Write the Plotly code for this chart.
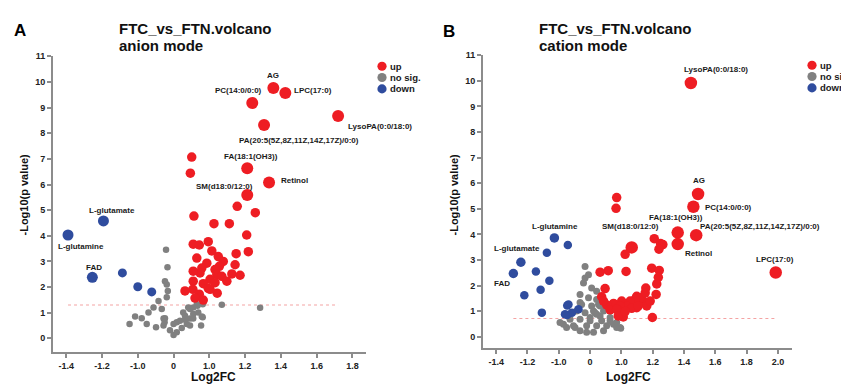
import plotly.graph_objects as go

# ---------------- data ----------------
# Panel A (anion mode): log2FC, -log10(p)
A_up_x = [1.358, 1.425, 1.24, 1.72, 1.306, 1.212, 1.334, 1.212,
          0.508, 0.47, 1.156, 1.257, 0.57, 1.026, 1.112, 1.209, 0.97, 0.55, 0.72, 1.014,
          1.218, 1.15, 1.05, 0.65, 1.078, 0.93, 1.144, 1.056, 0.79, 1.032, 0.74, 0.55,
          1.042, 1.126, 1.07, 1.172, 1.004, 1.098, 0.55, 0.83, 1.032, 0.97, 0.54, 0.32,
          0.72, 1.044, 0.60, 0.83, 1.004]
A_up_y = [9.76, 9.57, 9.18, 8.67, 8.32, 6.63, 6.08, 5.59,
          7.07, 6.44, 5.15, 4.90, 4.77, 4.47, 4.47, 4.03, 3.77, 3.67, 3.64, 3.41,
          3.38, 3.30, 3.19, 3.13, 3.00, 2.93, 2.87, 2.81, 2.74, 2.68, 2.55, 2.62,
          2.49, 2.51, 2.42, 2.46, 2.30, 2.23, 2.23, 2.13, 2.17, 1.95, 1.91, 1.85,
          1.72, 1.76, 1.57, 1.49, 1.91]
A_up_lab = ["AG", "LPC(17:0)", "PC(14:0/0:0)", "LysoPA(0:0/18:0)",
            "PA(20:5(5Z,8Z,11Z,14Z,17Z)/0:0)", "FA(18:1(OH3))", "Retinol", "SM(d18:0/12:0)"]

A_ns_x = [-0.21, -0.17, -0.24, -0.19, -0.16, -0.19, -0.42, -0.56, -0.70, -1.015, -0.89, -1.046,
          -0.75, -0.49, -0.28, -0.28, -0.10, 0.09, 0.0, 0.23, 0.37, 0.46, 0.27, 0.41, 0.55,
          0.65, 0.69, 0.79, 0.55, 0.09, 0.32, -0.25, 0.0, 0.46, 0.815, 1.07, 1.284, 0.815,
          0.77, 0.83, 0.67, 0.46, 0.32, 0.55, 0.18, -0.24, -0.33]
A_ns_y = [3.45, 2.77, 2.23, 2.10, 1.85, 1.60, 1.46, 1.20, 1.01, 0.85, 0.78, 0.56,
          0.56, 0.43, 0.50, 0.77, 0.31, 0.24, 0.13, 0.40, 0.56, 0.77, 1.01, 1.20, 1.20,
          1.33, 1.01, 0.85, 0.77, 0.63, 0.72, 0.63, 0.56, 0.50, 1.33, 1.31, 1.19, 0.82,
          0.50, 1.40, 1.27, 1.14, 0.88, 0.95, 0.69, 0.78, 1.14]

A_down_x = [-1.39, -1.192, -1.254, -1.086, -1.0, -0.61]
A_down_y = [4.03, 4.58, 2.38, 2.55, 2.01, 1.81]
A_down_lab = ["L-glutamine", "L-glutamate", "FAD"]

A_threshold = 1.30

# Panel B (cation mode)
B_up_x = [1.444, 1.49, 1.46, 1.36, 1.478, 1.36, 1.986, 1.066,
          0.85, 0.83, 1.024, 1.03, 0.58, 0.32, 0.48, 0.37,
          1.21, 1.25, 1.265, 1.24, 1.194, 1.242, 1.236, 1.226, 1.156, 1.222, 1.13, 1.152, 1.198,
          1.098, 1.12, 1.088, 1.056, 1.002, 0.75, 0.53, 0.43, 1.034, 0.96, 0.90, 0.64, 0.85,
          1.012, 0.90, 1.098, 1.066, 1.024, 1.108, 1.162, 1.184, 1.152]
B_up_y = [9.92, 5.58, 5.08, 4.07, 3.97, 3.62, 2.51, 3.49,
          5.44, 5.02, 3.22, 2.55, 2.58, 2.52, 1.88, 1.56,
          3.83, 3.64, 3.60, 3.42, 2.68, 2.59, 2.32, 2.06, 1.90, 1.65, 1.46, 1.35, 0.75,
          1.58, 1.52, 1.46, 1.39, 1.39, 1.30, 1.24, 1.39, 1.20, 1.20, 1.03, 1.05, 1.07,
          0.77, 0.81, 1.13, 1.11, 0.98, 1.20, 1.20, 1.39, 1.71]
B_up_lab = ["LysoPA(0:0/18:0)", "AG", "PC(14:0/0:0)", "FA(18:1(OH3))",
            "PA(20:5(5Z,8Z,11Z,14Z,17Z)/0:0)", "Retinol", "LPC(17:0)", "SM(d18:0/12:0)"]

B_ns_x = [-0.16, -0.16, -0.21, 0.05, 0.21, -0.32, -0.05, 0.21, -0.32, 0.05, 0.32, -0.43,
          -0.16, 0.16, 0.32, -0.64, -0.32, 0.0, 0.64, -0.85, -0.53, -0.11, 0.21, 0.53, 0.85,
          0.98, -0.32, 0.11, 0.43, -0.96, -0.05, 0.27, 0.11, -0.11, 0.0, 0.43, 0.64, 0.85,
          0.96, -0.75, -0.48, 0.75, 0.37, 0.21, -0.27]
B_ns_y = [2.74, 2.29, 2.10, 1.90, 1.78, 1.65, 1.52, 1.45, 1.34, 1.20, 1.20, 1.00,
          0.94, 0.94, 0.81, 0.68, 0.68, 0.62, 0.62, 0.49, 0.43, 0.43, 0.43, 0.43, 0.36,
          0.33, 0.23, 0.17, 0.23, 0.55, 2.42, 1.26, 1.00, 0.17, 0.75, 1.00, 0.75, 0.55,
          0.36, 0.36, 0.36, 0.49, 0.62, 0.88, 1.26]

B_down_x = [-1.028, -1.242, -1.29, -0.71, -1.076, -1.146, -1.06, -1.116, -1.22, -1.108,
            -0.73, -0.69, -0.73, -0.58, -0.37, -0.80]
B_down_y = [3.86, 2.91, 2.47, 3.58, 3.28, 2.55, 2.19, 1.83, 1.62, 0.94,
            1.22, 1.26, 0.85, 0.94, 1.07, 0.88]
B_down_lab = ["L-glutamine", "L-glutamate", "FAD"]

B_threshold = 0.71

A_ticks = [-1.4, -1.2, -1.0, 0, 1.0, 1.2, 1.4, 1.6, 1.8]
B_ticks = [-1.4, -1.2, -1.0, 0, 1.0, 1.2, 1.4, 1.6, 1.8, 2.0]
tick_text = {-1.4: "-1.4", -1.2: "-1.2", -1.0: "-1.0", 0: "0", 1.0: "1.0", 1.2: "1.2",
             1.4: "1.4", 1.6: "1.6", 1.8: "1.8", 2.0: "2.0"}
y_ticks = list(range(0, 12))

legend_items = ["up", "no sig.", "down"]

# ---------------- style ----------------
RED = "#EE1D23"
GRAY = "#808080"
BLUE = "#2F4C9E"
AXC = "#8C8C8C"
TXT = "#1a1a1a"
FONT = "Liberation Sans, Arial, sans-serif"
W, H = 841, 384


def fc_to_axis(v):
    # broken axis: |log2FC| <= 1 linear, beyond 1 each 0.2 is one unit
    if v > 1:
        return 1 + (v - 1) / 0.2
    if v < -1:
        return -1 + (v + 1) / 0.2
    return v


def PX(x):
    return x / W


def PY(y):
    return 1 - y / H


label_pos = {
    "A": {
        "AG": ("center", 0, 12.5),
        "PC(14:0/0:0)": ("center", -14, 12.6),
        "LPC(17:0)": ("left", 7, 2),
        "LysoPA(0:0/18:0)": ("left", 7.5, -10),
        "PA(20:5(5Z,8Z,11Z,14Z,17Z)/0:0)": ("left", -27, -15),
        "FA(18:1(OH3))": ("center", 4, 11.4),
        "Retinol": ("left", 9.7, 1.7),
        "SM(d18:0/12:0)": ("right", 8, 8.7),
        "L-glutamate": ("center", 8.4, 10.7),
        "L-glutamine": ("center", 12.7, -11.7),
        "FAD": ("center", 2, 10),
    },
    "B": {
        "LysoPA(0:0/18:0)": ("left", -9, 13.3),
        "AG": ("center", 1, 13),
        "PC(14:0/0:0)": ("left", 10, -1),
        "FA(18:1(OH3))": ("center", -2, 14.7),
        "PA(20:5(5Z,8Z,11Z,14Z,17Z)/0:0)": ("left", 2, 9),
        "Retinol": ("left", 5, -9),
        "LPC(17:0)": ("center", -1, 12.7),
        "SM(d18:0/12:0)": ("center", -1, 21),
        "L-glutamine": ("center", 0.7, 11.7),
        "L-glutamate": ("center", -3.7, 14),
        "FAD": ("center", -11.6, -9.7),
    },
}

panels = [
    dict(key="A", xa="x", ya="y",
         up=(A_up_x, A_up_y, A_up_lab), ns=(A_ns_x, A_ns_y), down=(A_down_x, A_down_y, A_down_lab),
         thr=A_threshold, ticks=A_ticks, size_up=(12, 9.5), size_down=(11, 9), size_ns=6.5),
    dict(key="B", xa="x2", ya="y2",
         up=(B_up_x, B_up_y, B_up_lab), ns=(B_ns_x, B_ns_y), down=(B_down_x, B_down_y, B_down_lab),
         thr=B_threshold, ticks=B_ticks, size_up=(12.5, 9.5), size_down=(9.5, 8.5), size_ns=7),
]

fig = go.Figure()
annotations = []
shapes = []

for p in panels:
    nx, ny = p["ns"]
    ux, uy, ulab = p["up"]
    dx, dy, dlab = p["down"]
    fig.add_trace(go.Scatter(
        x=[fc_to_axis(v) for v in nx], y=ny, mode="markers", xaxis=p["xa"], yaxis=p["ya"],
        marker=dict(color=GRAY, size=p["size_ns"], opacity=1, line=dict(width=0)),
        showlegend=False))
    usz = [p["size_up"][0] if i < len(ulab) else p["size_up"][1] for i in range(len(ux))]
    fig.add_trace(go.Scatter(
        x=[fc_to_axis(v) for v in ux], y=uy, mode="markers", xaxis=p["xa"], yaxis=p["ya"],
        marker=dict(color=RED, size=usz, opacity=1, line=dict(width=0)), showlegend=False))
    dsz = [p["size_down"][0] if i < len(dlab) else p["size_down"][1] for i in range(len(dx))]
    fig.add_trace(go.Scatter(
        x=[fc_to_axis(v) for v in dx], y=dy, mode="markers", xaxis=p["xa"], yaxis=p["ya"],
        marker=dict(color=BLUE, size=dsz, opacity=1, line=dict(width=0)), showlegend=False))

    allx = [fc_to_axis(v) for v in list(ux) + list(dx) + list(nx)]
    shapes.append(dict(type="line", xref=p["xa"], yref=p["ya"], x0=min(allx), x1=max(allx),
                       y0=p["thr"], y1=p["thr"], line=dict(color="#F4A3A3", width=1.2, dash="dot"),
                       layer="below"))

    for xs, ys, labs in ((ux, uy, ulab), (dx, dy, dlab)):
        for i, lab in enumerate(labs):
            xa, xs_, ys_ = label_pos[p["key"]][lab]
            annotations.append(dict(
                x=fc_to_axis(xs[i]), y=ys[i], xref=p["xa"], yref=p["ya"], text=lab,
                showarrow=False, xanchor=xa, yanchor="middle", xshift=xs_, yshift=ys_,
                font=dict(family=FONT, size=8, color=TXT, weight="bold")))

# titles, panel letters, axis titles
titles = [("A", 19.5, 25.5, "FTC_vs_FTN.volcano", "anion mode", 117, 23.5, 41.5,
           23, 192, 213, 377),
          ("B", 449, 27, "FTC_vs_FTN.volcano", "cation mode", 537, 23.5, 41.5,
           453, 192, 628, 377)]
for letter, lx, ly, t1, t2, tx, ty1, ty2, yx, yy, xx, xy in titles:
    annotations.append(dict(x=PX(lx), y=PY(ly), xref="paper", yref="paper", text=letter,
                            showarrow=False, xanchor="center", yanchor="middle",
                            font=dict(family=FONT, size=17, color="#000", weight="bold")))
    for t, ty in ((t1, ty1), (t2, ty2)):
        annotations.append(dict(x=PX(tx), y=PY(ty), xref="paper", yref="paper", text=t,
                                showarrow=False, xanchor="left", yanchor="middle",
                                font=dict(family=FONT, size=15, color="#111", weight="bold")))
    annotations.append(dict(x=PX(yx), y=PY(yy), xref="paper", yref="paper",
                            text="-Log10(p value)", textangle=-90, showarrow=False,
                            xanchor="center", yanchor="middle",
                            font=dict(family=FONT, size=11, color="#111", weight="bold")))
    annotations.append(dict(x=PX(xx), y=PY(xy), xref="paper", yref="paper", text="Log2FC",
                            showarrow=False, xanchor="center", yanchor="middle",
                            font=dict(family=FONT, size=12, color="#111", weight="bold")))

# manual legends
legend_colors = [RED, GRAY, BLUE]
for (mx, my0) in ((382, 62), (812, 61)):
    for i, (name, col) in enumerate(zip(legend_items, legend_colors)):
        cy = my0 + i * 11.5
        r = 4.6
        shapes.append(dict(type="circle", xref="paper", yref="paper",
                           x0=PX(mx - r), x1=PX(mx + r), y0=PY(cy + r), y1=PY(cy - r),
                           fillcolor=col, line=dict(width=0)))
        annotations.append(dict(x=PX(mx + 5.5), y=PY(cy), xref="paper", yref="paper", text=name,
                                showarrow=False, xanchor="left", yanchor="middle",
                                font=dict(family=FONT, size=9.5, color=TXT, weight="bold")))

axis_common = dict(showline=True, linecolor=AXC, linewidth=2, ticks="outside", ticklen=4,
                   tickwidth=1.5, tickcolor=AXC, showgrid=False, zeroline=False,
                   tickfont=dict(family=FONT, size=9, color="#222", weight="bold"))

fig.update_layout(
    width=W, height=H, margin=dict(l=0, r=0, t=0, b=0),
    paper_bgcolor="white", plot_bgcolor="white", showlegend=False,
    xaxis=dict(domain=[PX(53), PX(366)], range=[-3.37, 5.38], anchor="y",
               tickvals=[fc_to_axis(v) for v in A_ticks], ticktext=[tick_text[v] for v in A_ticks],
               **axis_common),
    yaxis=dict(domain=[PY(352), PY(52)], range=[-0.55, 11], anchor="x",
               tickvals=y_ticks, ticktext=[str(v) for v in y_ticks], **axis_common),
    xaxis2=dict(domain=[PX(483), PX(792)], range=[-3.42, 6.45], anchor="y2",
                tickvals=[fc_to_axis(v) for v in B_ticks], ticktext=[tick_text[v] for v in B_ticks],
                **axis_common),
    yaxis2=dict(domain=[PY(347.7), PY(51)], range=[-0.45, 11], anchor="x2",
                tickvals=y_ticks, ticktext=[str(v) for v in y_ticks], **axis_common),
    annotations=annotations, shapes=shapes,
)

fig.write_html("out.html")
